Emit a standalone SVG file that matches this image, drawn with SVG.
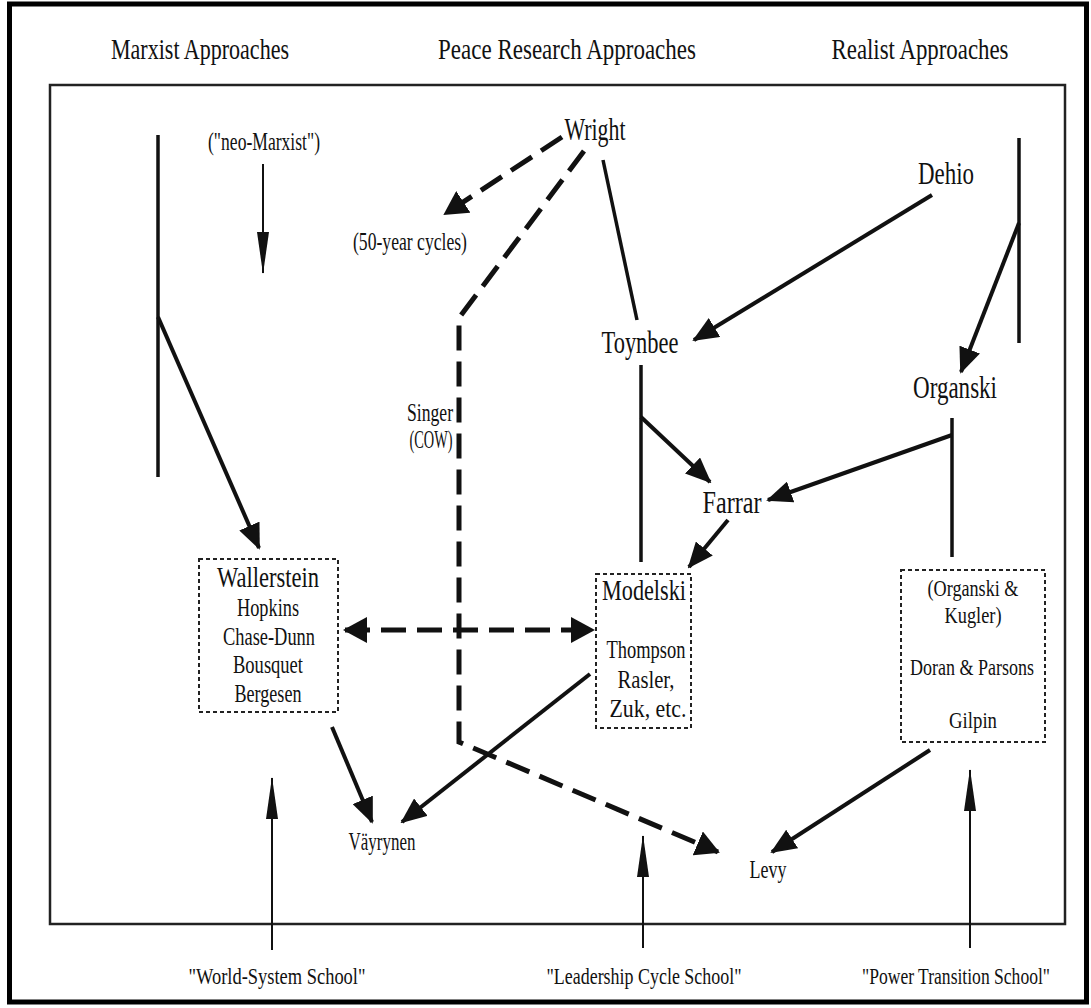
<svg xmlns="http://www.w3.org/2000/svg" width="1091" height="1008" viewBox="0 0 1091 1008">
<style>
text{font-family:"Liberation Serif","Times New Roman",serif;fill:#111;text-anchor:middle}
.h{font-size:30px}
.n{font-size:32px}
.w{font-size:29px}
.s{font-size:26px}
.b{font-size:24px}
.m{font-size:26px}
.sc{font-size:24px}
.solid{stroke:#111;stroke-width:4;fill:none}
.bar{stroke:#111;stroke-width:3.5;fill:none}
.thin{stroke:#111;stroke-width:2;fill:none}
.dash{stroke:#111;stroke-width:5;fill:none;stroke-dasharray:25 11}
.box{stroke:#222;stroke-width:2;fill:none;stroke-dasharray:4 3}
</style>
<defs>
<marker id="ah" markerUnits="userSpaceOnUse" markerWidth="26" markerHeight="22" viewBox="0 0 26 22" refX="24" refY="11" orient="auto"><path d="M0,0 L26,11 L0,22 z" fill="#111"/></marker>
<marker id="ahd" markerUnits="userSpaceOnUse" markerWidth="24" markerHeight="26" viewBox="0 0 24 26" refX="22" refY="13" orient="auto-start-reverse"><path d="M0,0 L24,13 L0,26 z" fill="#111"/></marker>
<marker id="aht" markerUnits="userSpaceOnUse" markerWidth="42" markerHeight="12" viewBox="0 0 42 12" refX="41" refY="6" orient="auto"><path d="M0,0 L42,6 L0,12 z" fill="#111"/></marker>
</defs>
<rect x="0" y="0" width="1091" height="1008" fill="#fff"/>
<rect x="9.5" y="4" width="1077" height="998" fill="none" stroke="#000" stroke-width="5"/>
<rect x="50" y="85" width="1015" height="839" fill="none" stroke="#222" stroke-width="2.5"/>

<g id="headers">
<text class="h" x="200" y="59" textLength="178" lengthAdjust="spacingAndGlyphs">Marxist Approaches</text>
<text class="h" x="567" y="59" textLength="258" lengthAdjust="spacingAndGlyphs">Peace Research Approaches</text>
<text class="h" x="920" y="59" textLength="177" lengthAdjust="spacingAndGlyphs">Realist Approaches</text>
</g>

<g id="connectors">
<line class="bar" x1="158" y1="135" x2="158" y2="477"/>
<line class="solid" x1="158" y1="317" x2="259" y2="548" marker-end="url(#ah)"/>
<line class="thin" x1="263" y1="164" x2="263" y2="273" marker-end="url(#aht)"/>
<line class="dash" x1="562" y1="137" x2="445" y2="214" marker-end="url(#ahd)"/>
<polyline class="dash" points="584,151 459,318 459,742 718,852" marker-end="url(#ahd)"/>
<line class="bar" x1="603" y1="160" x2="637" y2="320"/>
<line class="solid" x1="932" y1="195" x2="694" y2="340" marker-end="url(#ah)"/>
<line class="bar" x1="1019" y1="138" x2="1019" y2="343"/>
<line class="solid" x1="1019" y1="223" x2="961" y2="372" marker-end="url(#ah)"/>
<line class="bar" x1="641" y1="365" x2="641" y2="562"/>
<line class="solid" x1="641" y1="417" x2="710" y2="482" marker-end="url(#ah)"/>
<line class="bar" x1="952" y1="418" x2="952" y2="557"/>
<line class="solid" x1="952" y1="435" x2="768" y2="500" marker-end="url(#ah)"/>
<line class="solid" x1="728" y1="520" x2="689" y2="567" marker-end="url(#ah)"/>
<line class="dash" x1="345" y1="630" x2="593" y2="630" marker-start="url(#ahd)" marker-end="url(#ahd)"/>
<line class="solid" x1="332" y1="727" x2="372" y2="822" marker-end="url(#ah)"/>
<line class="solid" x1="590" y1="674" x2="402" y2="822" marker-end="url(#ah)"/>
<line class="solid" x1="930" y1="750" x2="772" y2="852" marker-end="url(#ah)"/>
<line class="thin" x1="272" y1="950" x2="272" y2="778" marker-end="url(#aht)"/>
<line class="thin" x1="643" y1="948" x2="643" y2="836" marker-end="url(#aht)"/>
<line class="thin" x1="970" y1="948" x2="970" y2="770" marker-end="url(#aht)"/>
</g>

<g id="neo-marxist"><text class="m" x="264" y="150" textLength="112" lengthAdjust="spacingAndGlyphs">("neo-Marxist")</text></g>
<g id="wright"><text class="n" x="595" y="140" textLength="61" lengthAdjust="spacingAndGlyphs">Wright</text></g>
<g id="fifty-year"><text class="m" x="410" y="250" textLength="114" lengthAdjust="spacingAndGlyphs">(50-year cycles)</text></g>
<g id="dehio"><text class="n" x="946" y="184" textLength="56" lengthAdjust="spacingAndGlyphs">Dehio</text></g>
<g id="toynbee"><text class="n" x="640" y="353" textLength="77" lengthAdjust="spacingAndGlyphs">Toynbee</text></g>
<g id="organski"><text class="n" x="955" y="398" textLength="84" lengthAdjust="spacingAndGlyphs">Organski</text></g>
<g id="singer">
<text class="m" x="430" y="421" textLength="46" lengthAdjust="spacingAndGlyphs">Singer</text>
<text class="m" x="431" y="448" textLength="43" lengthAdjust="spacingAndGlyphs">(COW)</text>
</g>
<g id="farrar"><text class="n" x="732" y="513" textLength="59" lengthAdjust="spacingAndGlyphs">Farrar</text></g>

<g id="wallerstein">
<rect class="box" x="199" y="559" width="139" height="153"/>
<text class="w" x="268" y="587" textLength="102" lengthAdjust="spacingAndGlyphs">Wallerstein</text>
<text class="s" x="268" y="616" textLength="62" lengthAdjust="spacingAndGlyphs">Hopkins</text>
<text class="s" x="269" y="645" textLength="92" lengthAdjust="spacingAndGlyphs">Chase-Dunn</text>
<text class="s" x="268" y="673" textLength="70" lengthAdjust="spacingAndGlyphs">Bousquet</text>
<text class="s" x="268" y="702" textLength="67" lengthAdjust="spacingAndGlyphs">Bergesen</text>
</g>

<g id="modelski">
<rect class="box" x="596" y="574" width="95" height="154"/>
<text class="w" x="644" y="600" textLength="84" lengthAdjust="spacingAndGlyphs">Modelski</text>
<text class="s" x="646" y="658" textLength="79" lengthAdjust="spacingAndGlyphs">Thompson</text>
<text class="s" x="646" y="688" textLength="57" lengthAdjust="spacingAndGlyphs">Rasler,</text>
<text class="s" x="648" y="717" textLength="77" lengthAdjust="spacingAndGlyphs">Zuk, etc.</text>
</g>

<g id="power-transition-group">
<rect class="box" x="901" y="570" width="144" height="172"/>
<text class="b" x="973" y="596" textLength="91" lengthAdjust="spacingAndGlyphs">(Organski &amp;</text>
<text class="b" x="973" y="623" textLength="57" lengthAdjust="spacingAndGlyphs">Kugler)</text>
<text class="b" x="972" y="675" textLength="124" lengthAdjust="spacingAndGlyphs">Doran &amp; Parsons</text>
<text class="b" x="973" y="728" textLength="48" lengthAdjust="spacingAndGlyphs">Gilpin</text>
</g>

<g id="vayrynen"><text class="m" x="382" y="850" textLength="67" lengthAdjust="spacingAndGlyphs">Väyrynen</text></g>
<g id="levy"><text class="m" x="768" y="878" textLength="37" lengthAdjust="spacingAndGlyphs">Levy</text></g>

<g id="schools">
<text class="sc" x="277" y="984" textLength="177" lengthAdjust="spacingAndGlyphs">"World-System School"</text>
<text class="sc" x="644" y="984" textLength="195" lengthAdjust="spacingAndGlyphs">"Leadership Cycle School"</text>
<text class="sc" x="956" y="984" textLength="188" lengthAdjust="spacingAndGlyphs">"Power Transition School"</text>
</g>
</svg>
